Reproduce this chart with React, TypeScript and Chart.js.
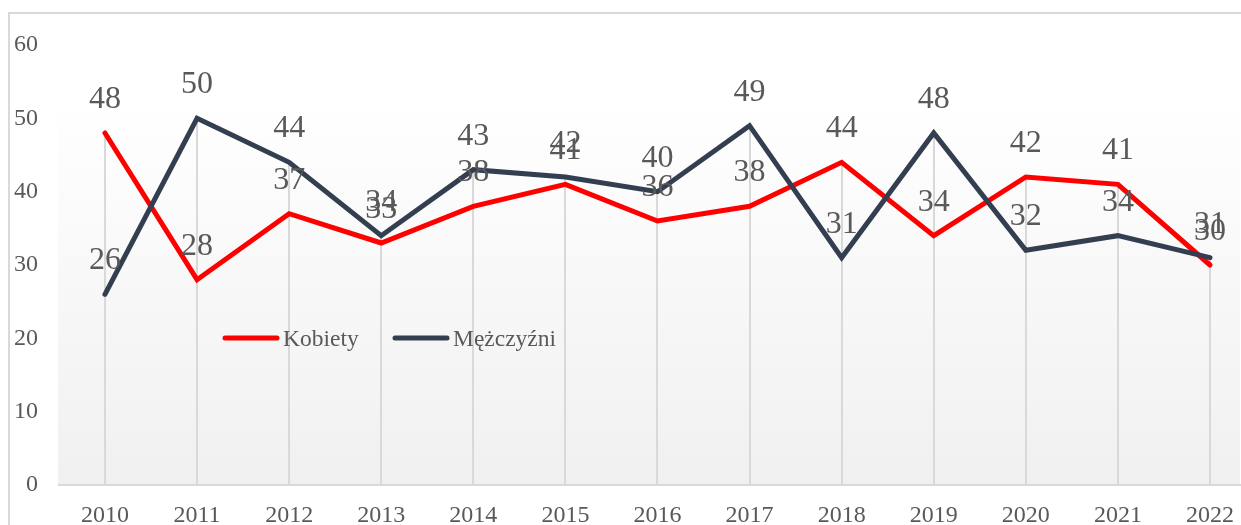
import { useEffect, useRef } from "react";
import { Chart, registerables } from "chart.js";

Chart.register(...registerables);

const years = [2010, 2011, 2012, 2013, 2014, 2015, 2016, 2017, 2018, 2019, 2020, 2021, 2022];
const kobiety = [48, 28, 37, 33, 38, 41, 36, 38, 44, 34, 42, 41, 30];
const mezczyzni = [26, 50, 44, 34, 43, 42, 40, 49, 31, 48, 32, 34, 31];
const yTicks = [0, 10, 20, 30, 40, 50, 60];
const seriesNames = ["Kobiety", "Mężczyźni"];
const seriesColors = ["#ff0000", "#333f50"];

const TEXT = "#595959";
const FONT = "'Liberation Serif', 'Times New Roman', serif";
const GRID = "#d9d9d9";

export default function App() {
  const ref = useRef<HTMLCanvasElement>(null);

  useEffect(() => {
    const canvas = ref.current!;

    const decor = {
      id: "decor",
      beforeDraw(chart: any) {
        const { ctx, chartArea } = chart;
        const { left, right, bottom } = chartArea;
        ctx.save();
        ctx.fillStyle = "#ffffff";
        ctx.fillRect(0, 0, chart.width, chart.height);
        const gTop = 100;
        const g = ctx.createLinearGradient(0, gTop, 0, bottom);
        g.addColorStop(0, "#ffffff");
        g.addColorStop(1, "#f0f0f0");
        ctx.fillStyle = g;
        ctx.fillRect(left, gTop, right - left, bottom - gTop);
        ctx.strokeStyle = GRID;
        ctx.lineWidth = 2;
        ctx.strokeRect(9, 13, chart.width + 20, chart.height + 20);
        ctx.restore();
      },
      beforeDatasetsDraw(chart: any) {
        const { ctx, chartArea } = chart;
        const xs = chart.scales.x;
        const ys = chart.scales.y;
        const y0 = ys.getPixelForValue(0);
        ctx.save();
        ctx.strokeStyle = GRID;
        ctx.lineWidth = 2;
        years.forEach((yr, i) => {
          const x = Math.round(xs.getPixelForValue(yr));
          const top = ys.getPixelForValue(Math.max(kobiety[i], mezczyzni[i]));
          ctx.beginPath();
          ctx.moveTo(x, top);
          ctx.lineTo(x, y0);
          ctx.stroke();
        });
        ctx.beginPath();
        ctx.moveTo(chartArea.left, y0);
        ctx.lineTo(chartArea.right + 2, y0);
        ctx.stroke();
        ctx.restore();
      },
      afterDatasetsDraw(chart: any) {
        const { ctx } = chart;
        const xs = chart.scales.x;
        const ys = chart.scales.y;
        ctx.save();
        ctx.fillStyle = TEXT;
        ctx.font = `32px ${FONT}`;
        ctx.textAlign = "center";
        ctx.textBaseline = "alphabetic";
        [kobiety, mezczyzni].forEach((arr) => {
          arr.forEach((v, i) => {
            const x = xs.getPixelForValue(years[i]);
            const y = ys.getPixelForValue(v);
            ctx.fillText(String(v), x, y - 25);
          });
        });
        // legend
        const legendX = [223, 393];
        const ly = 338;
        ctx.font = `23.5px ${FONT}`;
        ctx.textAlign = "left";
        seriesNames.forEach((name, i) => {
          const lx = legendX[i];
          ctx.strokeStyle = seriesColors[i];
          ctx.lineWidth = 5;
          ctx.lineCap = "round";
          ctx.beginPath();
          ctx.moveTo(lx + 2, ly);
          ctx.lineTo(lx + 54, ly);
          ctx.stroke();
          ctx.fillStyle = TEXT;
          ctx.fillText(name, lx + 60, ly + 8);
        });
        ctx.restore();
      },
    };

    const chart = new Chart(canvas, {
      type: "line",
      data: {
        datasets: [
          {
            label: seriesNames[0],
            data: years.map((yr, i) => ({ x: yr, y: kobiety[i] })),
            borderColor: seriesColors[0],
            backgroundColor: seriesColors[0],
            borderWidth: 5,
            pointRadius: 0,
            tension: 0,
            borderCapStyle: "round",
            order: 2,
          },
          {
            label: seriesNames[1],
            data: years.map((yr, i) => ({ x: yr, y: mezczyzni[i] })),
            borderColor: seriesColors[1],
            backgroundColor: seriesColors[1],
            borderWidth: 5,
            pointRadius: 0,
            tension: 0,
            borderCapStyle: "round",
            order: 1,
          },
        ],
      },
      options: {
        animation: false,
        responsive: false,
        devicePixelRatio: 1,
        layout: { padding: { top: 45, right: 1, left: 0, bottom: 0 } },
        plugins: { legend: { display: false }, tooltip: { enabled: false } },
        scales: {
          x: {
            type: "linear",
            min: 2009.49,
            max: 2022.326,
            afterBuildTicks(scale: any) {
              scale.ticks = years.map((v) => ({ value: v }));
            },
            afterFit(scale: any) {
              scale.height = 40;
              scale.paddingLeft = 0;
              scale.paddingRight = 0;
            },
            grid: { display: false, drawTicks: false },
            border: { display: false },
            ticks: {
              color: TEXT,
              font: { family: FONT, size: 24 },
              padding: 16,
              maxRotation: 0,
              autoSkip: false,
              callback: (v: any) => String(v),
            },
          },
          y: {
            min: 0,
            max: 60,
            afterBuildTicks(scale: any) {
              scale.ticks = yTicks.map((v) => ({ value: v }));
            },
            afterFit(scale: any) {
              scale.width = 58;
              scale.paddingTop = 0;
              scale.paddingBottom = 0;
            },
            grid: { display: false, drawTicks: false },
            border: { display: false },
            ticks: {
              color: TEXT,
              font: { family: FONT, size: 24 },
              padding: 20,
            },
          },
        },
      },
      plugins: [decor],
    });

    return () => chart.destroy();
  }, []);

  return (
    <div style={{ position: "fixed", left: 0, top: 0, width: 1241, height: 525, background: "#fff" }}>
      <canvas ref={ref} width={1241} height={525} style={{ display: "block" }} />
    </div>
  );
}
